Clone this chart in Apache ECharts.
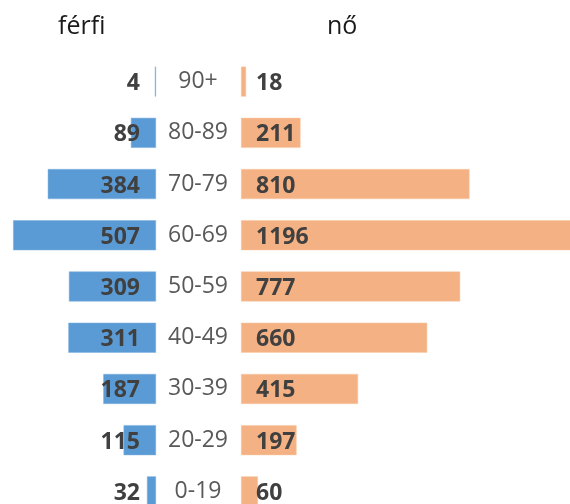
<!DOCTYPE html>
<html>
<head>
<meta charset="utf-8">
<script src="https://cdn.jsdelivr.net/npm/echarts@6/dist/echarts.min.js"></script>
<style>
  html, body { margin: 0; padding: 0; background: #fff; }
  #chart { width: 570px; height: 504px; }
</style>
</head>
<body>
<div id="chart"></div>
<script>
// age groups, bottom to top
var ageGroups = ['0-19', '20-29', '30-39', '40-49', '50-59', '60-69', '70-79', '80-89', '90+'];
var maleValues = [32, 115, 187, 311, 309, 507, 384, 89, 4];
var femaleValues = [60, 197, 415, 660, 777, 1196, 810, 211, 18];
var titles = ['férfi', 'nő'];

var FONT = '"Open Sans", "Noto Sans", sans-serif';

var chart = echarts.init(document.getElementById('chart'));

var option = {
  animation: false,
  title: [
    { text: titles[0], left: 53, top: 9, textStyle: { fontFamily: FONT, fontSize: 25, fontWeight: 'normal', color: '#1a1a1a' } },
    { text: titles[1], left: 322, top: 9, textStyle: { fontFamily: FONT, fontSize: 25, fontWeight: 'normal', color: '#1a1a1a' } }
  ],
  // the chart runs off the bottom and right edge of the picture, so no clamping
  grid: [
    { left: 1, width: 155, top: 56, height: 461, outerBoundsMode: 'none', containLabel: false },
    { left: 241, width: 400, top: 56, height: 461, outerBoundsMode: 'none', containLabel: false }
  ],
  xAxis: [
    { gridIndex: 0, type: 'value', min: 0, max: 550, inverse: true, show: false },
    { gridIndex: 1, type: 'value', min: 0, max: 1418, show: false }
  ],
  yAxis: [
    {
      gridIndex: 0, type: 'category', data: ageGroups, position: 'right',
      axisLine: { show: false }, axisTick: { show: false }, axisLabel: { show: false }, splitLine: { show: false }
    },
    {
      gridIndex: 1, type: 'category', data: ageGroups, position: 'left',
      axisLine: { show: false }, axisTick: { show: false }, splitLine: { show: false },
      axisLabel: { align: 'center', margin: 43, padding: [4, 0, 0, 0], fontFamily: FONT, fontSize: 23, color: '#595959' }
    }
  ],
  series: [
    {
      name: titles[0], type: 'bar', xAxisIndex: 0, yAxisIndex: 0,
      data: maleValues, barWidth: 30,
      itemStyle: { color: '#5B9BD5', borderColor: '#7fb1e0', borderWidth: 0.5 },
      label: {
        show: true, position: 'insideRight', distance: 16, offset: [0, 2],
        fontFamily: FONT, fontSize: 23, fontWeight: 'bold', color: '#404040'
      }
    },
    {
      name: titles[1], type: 'bar', xAxisIndex: 1, yAxisIndex: 1,
      data: femaleValues, barWidth: 30,
      itemStyle: { color: '#F4B183', borderColor: '#f8c8a4', borderWidth: 0.5 },
      label: {
        show: true, position: 'insideLeft', distance: 15, offset: [0, 2],
        fontFamily: FONT, fontSize: 23, fontWeight: 'bold', color: '#404040'
      }
    }
  ]
};

chart.setOption(option);
</script>
</body>
</html>
